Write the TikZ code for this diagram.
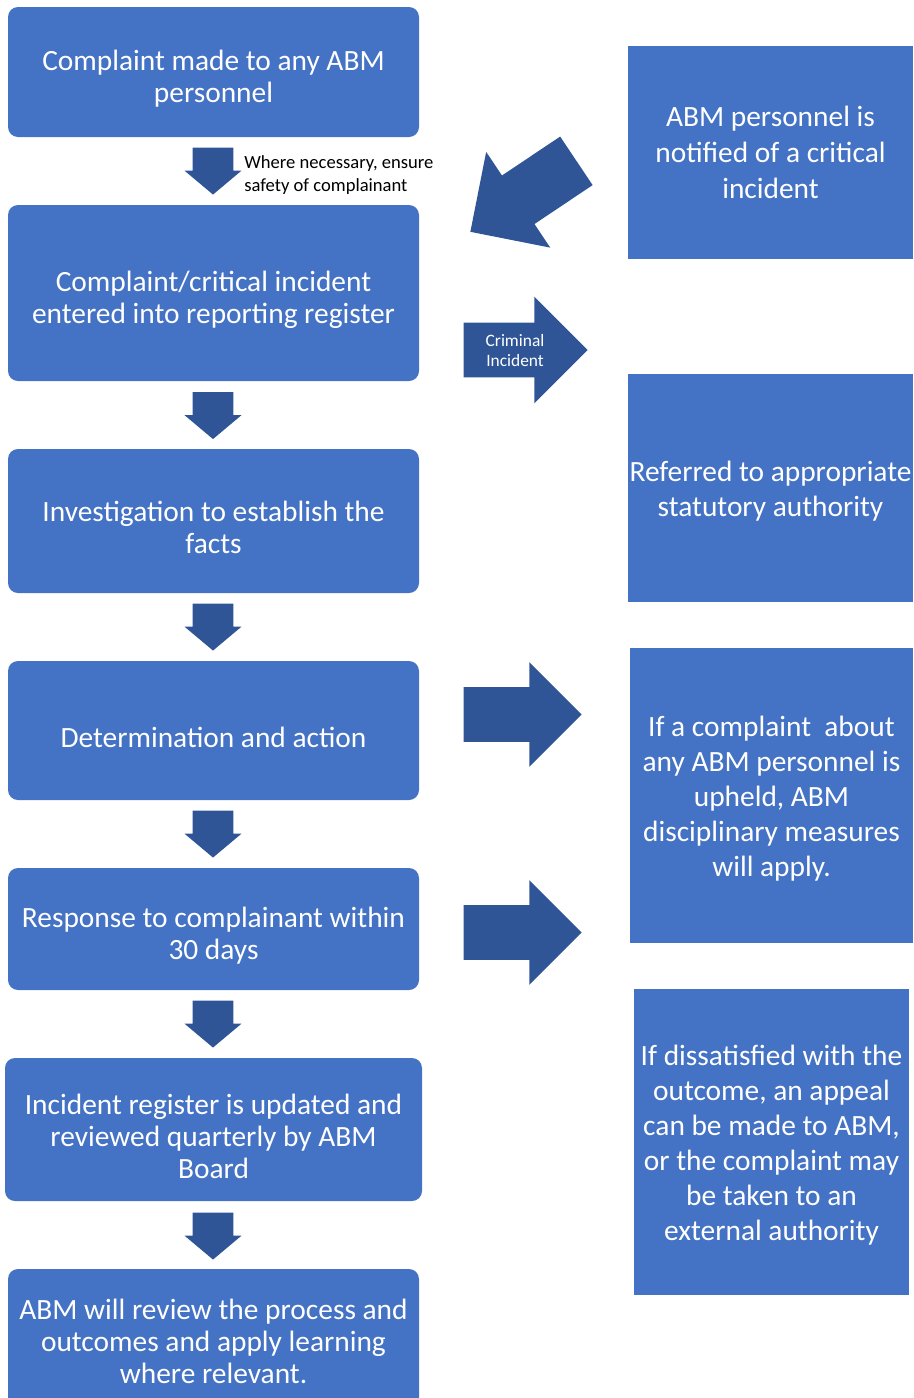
\documentclass[tikz,border=0pt]{standalone}
\usepackage{fontspec}
\setmainfont{Carlito}
\usetikzlibrary{shapes.arrows}
\definecolor{boxblue}{HTML}{4472C4}
\definecolor{arrowblue}{HTML}{2F5597}
\newcommand{\topgap}{\rule{0pt}{17pt}}
\newcommand{\sidegap}{\rule{0pt}{13pt}}
\tikzset{
    stepbox/.style={fill=boxblue, rounded corners=5pt, text=white, align=center,
        minimum width=205.5pt, inner sep=0pt, font=\fontsize{14.7}{16}\selectfont},
    sidebox/.style={fill=boxblue, text=white, align=center, inner sep=0pt,
        font=\fontsize{14.7}{17.5}\selectfont},
    downarrow/.style={single arrow, fill=arrowblue, inner xsep=0pt, inner ysep=10pt,
        minimum height=23.5pt, single arrow head extend=4pt,
        single arrow tip angle=100, rotate=-90},
    bigarrow/.style={single arrow, fill=arrowblue, inner xsep=0pt, inner ysep=13.5pt,
        minimum height=59pt, single arrow head extend=12.5pt,
        single arrow tip angle=90},
}
\begin{document}
\begin{tikzpicture}[x=0.5pt, y=-0.5pt]
    \useasboundingbox (0, 0) rectangle (914, 1398);

    \node[stepbox, minimum height=65pt] (complaint) at (213.5, 72) {\topgap Complaint made to any ABM\\personnel};
    \node[stepbox, minimum height=88pt] (register) at (213.5, 293) {\topgap Complaint/critical incident\\entered into reporting register};
    \node[stepbox, minimum height=72pt] (investigate) at (213.5, 521) {\topgap Investigation to establish the\\facts};
    \node[stepbox, minimum height=69.5pt] (determine) at (213.5, 730.5) {\topgap Determination and action};
    \node[stepbox, minimum height=61pt] (response) at (213.5, 929) {\topgap Response to complainant within\\30 days};
    \node[stepbox, minimum height=71.5pt, minimum width=208.5pt] (update) at (213.5, 1129.5) {\topgap Incident register is updated and\\reviewed quarterly by ABM\\Board};
    \node[stepbox, minimum height=72pt] (learning) at (213.5, 1341) {ABM will review the process and\\outcomes and apply learning\\where relevant.};

    \node[sidebox, minimum width=142.5pt, minimum height=106.5pt, font=\fontsize{14.7}{18}\selectfont] (notified) at (770.5, 152.5) {ABM personnel is\\notified of a critical\\incident};
    \node[sidebox, minimum width=142.5pt, minimum height=114pt] (referred) at (770.5, 488) {\sidegap Referred to appropriate\\statutory authority};
    \node[sidebox, minimum width=141.5pt, minimum height=147.5pt] (upheld) at (771.5, 795.5) {\sidegap If a complaint\ \ about\\any ABM personnel is\\upheld, ABM\\disciplinary measures\\will apply.};
    \node[sidebox, minimum width=137.5pt, minimum height=153pt] (appeal) at (771.5, 1142) {\sidegap If dissatisfied with the\\outcome, an appeal\\can be made to ABM,\\or the complaint may\\be taken to an\\external authority};

    \node[downarrow] (down1) at (213, 162.5) {};
    \node[downarrow] (down2) at (213, 407) {};
    \node[downarrow] (down3) at (213, 618.5) {};
    \node[downarrow] (down4) at (213, 825.5) {};
    \node[downarrow] (down5) at (213, 1015.5) {};
    \node[downarrow] (down6) at (213, 1227.5) {};
    \node[anchor=west, align=left, inner sep=0pt, font=\fontsize{9.3}{11.5}\selectfont] (safety) at (244, 175) {Where necessary, ensure\\safety of complainant};

    \node[bigarrow, rotate=213.8, minimum height=63.8pt, inner ysep=14.4pt, single arrow head extend=14.2pt] (toregister) at (535.5, 188.2) {};
    \node[bigarrow, minimum height=62pt, single arrow head extend=13pt] (criminal) at (512, 350) {};
    \node[text=white, align=center, inner sep=0pt, font=\fontsize{8.7}{10}\selectfont] (criminaltext) at (515, 351) {Criminal\\Incident};
    \node[bigarrow] (toupheld) at (509, 714.5) {};
    \node[bigarrow] (toappeal) at (509, 932.5) {};
\end{tikzpicture}
\end{document}
